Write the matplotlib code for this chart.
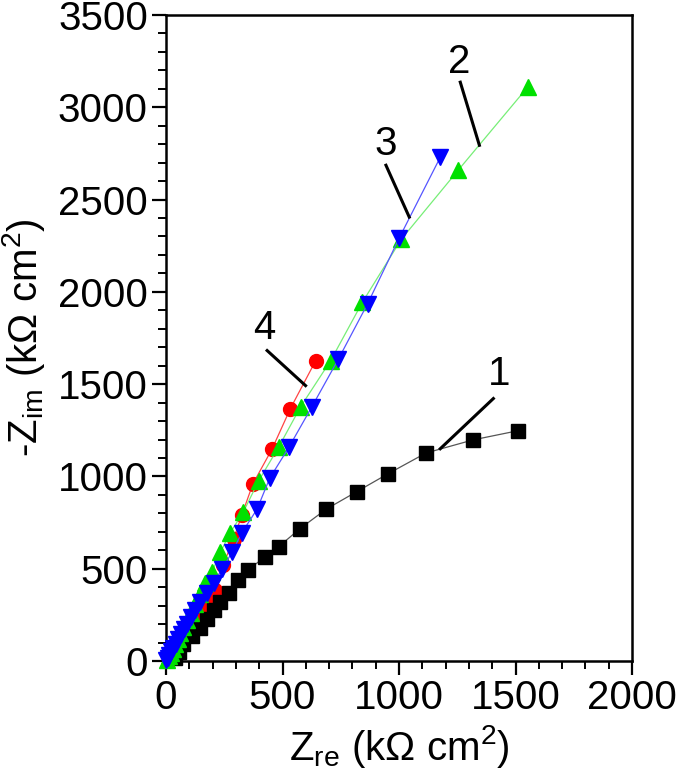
import matplotlib
matplotlib.use("Agg")
import matplotlib.pyplot as plt
from matplotlib.ticker import MultipleLocator

plt.rcParams['font.family'] = ['Liberation Sans', 'DejaVu Sans']
plt.rcParams['mathtext.fontset'] = 'custom'
plt.rcParams['mathtext.rm'] = 'Liberation Sans'
plt.rcParams['mathtext.it'] = 'Liberation Sans'

# curve 1 (black squares)
x1 = [40, 55, 75, 111, 147, 175, 204, 233, 269, 307, 350, 427, 484, 575, 688, 818, 951, 1116, 1318, 1512]
y1 = [15, 50, 91, 136, 181, 226, 277, 322, 371, 438, 494, 564, 620, 717, 823, 917, 1013, 1127, 1198, 1248]

# curve 2 (green up triangles)
x2 = [5, 12, 20, 29, 39, 50, 62, 75, 89, 106, 125, 147, 168, 197, 233, 276, 331, 398, 484, 578, 707, 843, 1010, 1254, 1552]
y2 = [8, 25, 45, 67, 92, 120, 150, 183, 220, 262, 308, 365, 425, 480, 588, 696, 805, 977, 1160, 1378, 1628, 1944, 2285, 2659, 3109]

# curve 3 (blue down triangles)
x3 = [2, 8, 15, 23, 32, 42, 53, 65, 78, 92, 108, 126, 147, 175, 204, 240, 283, 326, 391, 445, 527, 625, 740, 865, 1001, 1177]
y3 = [5, 18, 34, 52, 72, 94, 118, 144, 172, 203, 237, 274, 318, 368, 425, 497, 588, 696, 823, 990, 1157, 1375, 1636, 1935, 2292, 2729]

# curve 4 (red circles)
x4 = [15, 24, 35, 46, 58, 72, 88, 105, 124, 145, 168, 190, 211, 245, 290, 326, 373, 455, 534, 642]
y4 = [12, 28, 48, 70, 95, 122, 152, 186, 222, 262, 305, 345, 385, 520, 660, 793, 960, 1148, 1368, 1626]

# curve labels: text, text anchor, leader line start/end
labels = ['1', '2', '3', '4']
label_xy = [(1431, 1450), (1259, 3145), (944, 2700), (420, 1700)]
lead_start = [(1405, 1422), (1263, 3136), (944, 2686), (434, 1682)]
lead_end = [(1177, 1150), (1345, 2794), (1044, 2405), (599, 1492)]

fig = plt.figure(figsize=(6.85, 7.72), dpi=100)
ax = fig.add_axes([166 / 685, 1 - 661 / 772, 466 / 685, 646 / 772])

ax.plot(x4, y4, color='#ff4444', lw=0.9, marker='o', ms=10, mfc='#ff0000', mec='#ff0000',
        zorder=3, clip_on=False)
ax.plot(x1, y1, color='#555555', lw=0.9, marker='s', ms=9.5, mfc='black', mec='black',
        zorder=4, clip_on=False)
ax.plot(x2, y2, color='#77ee77', lw=0.9, marker='^', ms=11.5, mfc='#00e000', mec='#00e000',
        zorder=5, clip_on=False)
ax.plot(x3, y3, color='#5555ff', lw=0.9, marker='v', ms=11.5, mfc='#0000ff', mec='#0000ff',
        zorder=6, clip_on=False)

for lab, txy, s, e in zip(labels, label_xy, lead_start, lead_end):
    ax.plot([s[0], e[0]], [s[1], e[1]], color='black', lw=2.2, zorder=7)
    ax.text(txy[0], txy[1], lab, fontsize=29, ha='center', va='bottom', zorder=8)

ax.set_xlim(0, 2000)
ax.set_ylim(0, 3500)
ax.xaxis.set_major_locator(MultipleLocator(500))
ax.xaxis.set_minor_locator(MultipleLocator(100))
ax.yaxis.set_major_locator(MultipleLocator(500))
ax.yaxis.set_minor_locator(MultipleLocator(100))
ax.tick_params(which='major', direction='out', length=10, width=1.6, labelsize=29, pad=3)
ax.tick_params(which='minor', direction='out', length=6, width=1.4)
ax.tick_params(top=False, right=False)
for sp in ax.spines.values():
    sp.set_linewidth(1.8)

ax.set_xlabel(r'Z$_{\rm re}$ (kΩ cm$^2$)', fontsize=29, labelpad=4)
ax.set_ylabel(r'-Z$_{\rm im}$ (kΩ cm$^2$)', fontsize=29, labelpad=8)

fig.savefig('out.png', dpi=100)
